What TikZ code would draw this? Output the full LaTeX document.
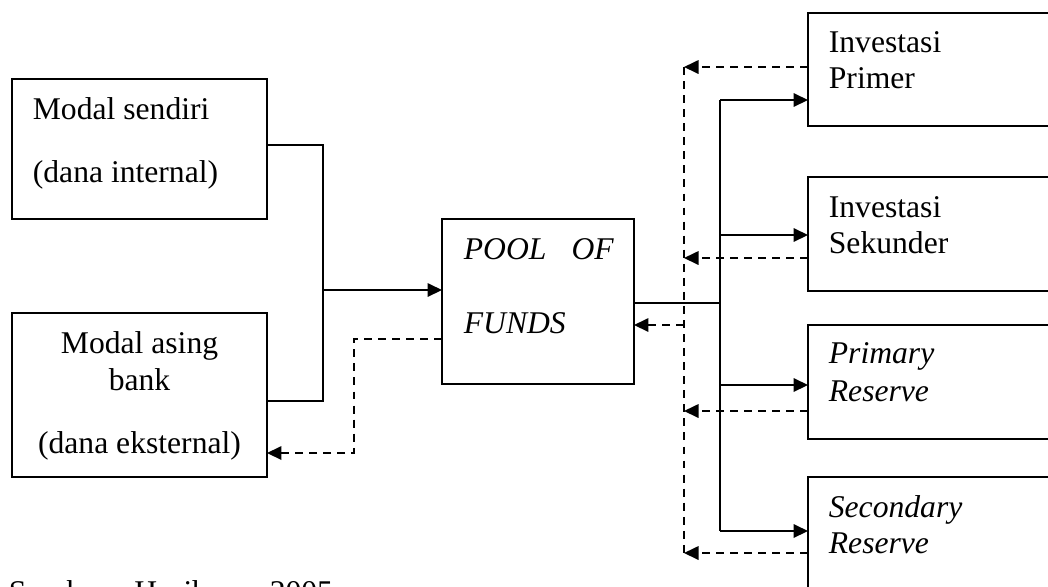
\documentclass[tikz,border=0pt]{standalone}
\usepackage{fontspec}
\setmainfont{Liberation Serif}
\usetikzlibrary{arrows.meta}
\tikzset{box/.style={draw,rectangle,inner sep=0pt,outer sep=0pt},
  txt/.style={anchor=base west,inner sep=0pt,font=\fontsize{18}{22}\selectfont},
  feed/.style={-{Triangle[length=0.29cm,width=0.27cm]}},
  back/.style={dash pattern=on 4.5pt off 3.5pt},
  backto/.style={back,-{Triangle[length=0.29cm,width=0.27cm]}}}

\begin{document}
\begin{tikzpicture}[x=0.02cm,y=-0.02cm,line width=1pt]
   \useasboundingbox (0,0) rectangle (1048,586);
   \clip (0,0) rectangle (1048,586);

   \node[box,minimum width=5.1cm,minimum height=2.8cm]   (ms)   at (139.5,149) {};
   \node[box,minimum width=5.1cm,minimum height=3.28cm]  (ma)   at (139.5,395) {};
   \node[box,minimum width=3.84cm,minimum height=3.3cm]  (pool) at (538,301.5) {};
   \node[box,minimum width=5.24cm,minimum height=2.26cm] (ip)   at (939,69.5) {};
   \node[box,minimum width=5.24cm,minimum height=2.28cm] (is)   at (939,234) {};
   \node[box,minimum width=5.24cm,minimum height=2.28cm] (pr)   at (939,382) {};
   \node[box,minimum width=5.24cm,minimum height=2.28cm] (sr)   at (939,534) {};

   \node[txt] (ms1) at ( 32,119) {Modal sendiri};
   \node[txt] (ms2) at ( 32,182) {(dana internal)};
   \node[txt,anchor=base] (ma1) at (139.5,353) {Modal asing};
   \node[txt,anchor=base] (ma2) at (139.5,390) {bank};
   \node[txt,anchor=base] (ma3) at (139.5,453) {(dana eksternal)};
   \node[txt] (pool1) at (463,259) {\makebox[3cm][s]{\itshape POOL OF}};
   \node[txt] (pool2) at (463,333) {\itshape FUNDS};
   \node[txt] (ip1) at (828, 52) {Investasi};
   \node[txt] (ip2) at (828, 88) {Primer};
   \node[txt] (is1) at (828,217) {Investasi};
   \node[txt] (is2) at (828,253) {Sekunder};
   \node[txt] (pr1) at (828,363) {\itshape Primary};
   \node[txt] (pr2) at (828,401) {\itshape Reserve};
   \node[txt] (sr1) at (828,517) {\itshape Secondary};
   \node[txt] (sr2) at (828,553) {\itshape Reserve};
   \node[txt] (src) at (  8,602) {Sumber : Hasibuan, 2005};

   \coordinate (jin) at (323,290);
   \coordinate (jms) at (323,145);
   \coordinate (jma) at (323,401);
   \draw (jms -| ms.east) -- (jms) -- (jma) -- (jma -| ma.east);
   \draw[feed] (jin) -- (jin -| pool.west);

   \coordinate (rd1) at (354,339);
   \coordinate (rd2) at (354,453);
   \draw[backto] (rd1 -| pool.west) -- (rd1) -- (rd2) -- (rd2 -| ma.east);

   \coordinate (jout) at (720,303);
   \draw (jout -| pool.east) -- (jout);
   \draw (720,100) -- (720,531);
   \foreach \n/\y in {ip/100,is/235,pr/385,sr/531} {
     \coordinate (t\n) at (720,\y);
     \draw[feed] (t\n) -- (t\n -| \n.west);
   }

   \draw[back] (684,67) -- (684,553);
   \foreach \n/\y in {ip/67,is/258,pr/411,sr/553} {
     \coordinate (b\n) at (684,\y);
     \draw[backto] (b\n -| \n.west) -- (b\n);
   }
   \coordinate (bp) at (684,325);
   \draw[backto] (bp) -- (bp -| pool.east);
\end{tikzpicture}
\end{document}
